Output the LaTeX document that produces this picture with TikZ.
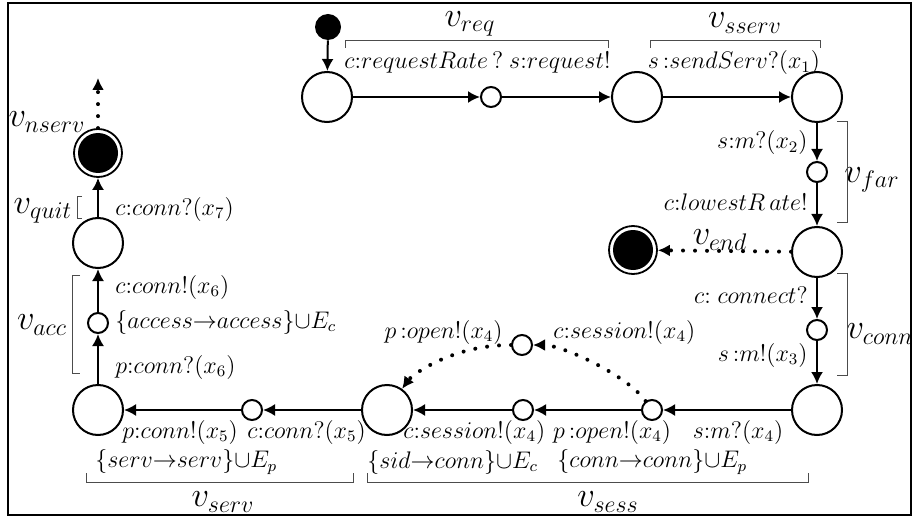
\documentclass[tikz,border=0pt]{standalone}
\usetikzlibrary{arrows.meta}
\begin{document}
\begin{tikzpicture}[x=0.5pt,y=-0.5pt,
  big/.style={circle,draw,line width=1pt,minimum size=25pt,inner sep=0pt},
  small/.style={circle,draw,line width=1pt,minimum size=10pt,inner sep=0pt},
  initst/.style={circle,fill,minimum size=13pt,inner sep=0pt},
  finalst/.style={circle,draw,line width=0.9pt,minimum size=24pt,inner sep=0pt,
     path picture={\fill (path picture bounding box.center) circle (10pt);}},
  tr/.style={line width=1pt,-{Latex[length=6pt,width=6pt]}},
  dot/.style={line width=2pt,line cap=round,dash pattern=on 0pt off 6pt,-{Latex[length=6pt,width=6pt]}},
  lab/.style={font=\fontsize{11.5}{13}\selectfont,inner sep=0pt},
  vlab/.style={font=\fontsize{16.5}{19}\selectfont,inner sep=0pt},
  brk/.style={draw=black!70,line width=0.5pt}]
\useasboundingbox (0,0) rectangle (914,518);
\draw[line width=1pt] (8,3) rectangle (911,515);
% states
\node[initst] (init) at (328,27) {};
\node[big] (A) at (327,97) {};
\node[small] (r1) at (491,97) {};
\node[big] (B) at (637,97) {};
\node[big] (C) at (817,97) {};
\node[small] (f1) at (817,172) {};
\node[big] (D) at (817,252) {};
\node[finalst] (endF) at (633,250) {};
\node[small] (c1) at (817,330) {};
\node[big] (E) at (817,410) {};
\node[small] (o1) at (652,410) {};
\node[small] (s1) at (523,410) {};
\node[small] (t1) at (522,345) {};
\node[big] (F) at (387,410) {};
\node[small] (k1) at (252,410) {};
\node[big] (G) at (98,410) {};
\node[small] (a1) at (98,323) {};
\node[big] (H) at (98,243) {};
\node[finalst] (nserv) at (98,153) {};
\coordinate (up) at (98,78);
% transitions
\draw[tr] (init) -- (A);
\draw[tr] (A) -- (r1);
\draw[tr] (r1) -- (B);
\draw[tr] (B) -- (C);
\draw[tr] (C) -- (f1);
\draw[tr] (f1) -- (D);
\draw[dot] (D) -- (endF);
\draw[tr] (D) -- (c1);
\draw[tr] (c1) -- (E);
\draw[tr] (E) -- (o1);
\draw[tr] (o1) -- (s1);
\draw[tr] (s1) -- (F);
\draw[tr] (F) -- (k1);
\draw[tr] (k1) -- (G);
\draw[tr] (G) -- (a1);
\draw[tr] (a1) -- (H);
\draw[tr] (H) -- (nserv);
\draw[dot] (nserv) -- (up);
\draw[dot] (o1) .. controls +(-25,-35) and +(40,0) .. (t1);
\draw[dot] (t1) .. controls +(-70,0) and +(25,-35) .. (F);
% edge labels
\node[lab,anchor=west] (l1) at (344,63) {$c{:}requestRate\,?$};
\node[lab,anchor=east] (l2) at (611,63) {$s{:}request!$};
\node[lab] (l3) at (734,63) {$s\,{:}sendServ?(x_1)$};
\node[lab,anchor=east] (l4) at (808,143) {$s{:}m?(x_2)$};
\node[lab,anchor=east] (l5) at (808,202) {$c{:}lowestR\,ate!$};
\node[lab,anchor=east] (l6) at (808,295) {$c{:}\;connect?$};
\node[lab,anchor=east] (l7) at (808,355) {$s\,{:}m!(x_3)$};
\node[lab] (l8) at (738,432) {$s{:}m?(x_4)$};
\node[lab] (l9) at (612,432) {$p\,{:}open!(x_4)$};
\node[lab,anchor=west] (l10) at (557,462) {$\{conn{\rightarrow}conn\}{\cup}E_p$};
\node[lab,anchor=west] (l11) at (403,432) {$c{:}session!(x_4)$};
\node[lab,anchor=west] (l12) at (367,462) {$\{sid{\rightarrow}conn\}{\cup}E_c$};
\node[lab,anchor=west] (l13) at (553,332) {$c{:}session!(x_4)$};
\node[lab,anchor=east] (l14) at (503,332) {$p\,{:}open!(x_4)$};
\node[lab,anchor=west] (l15) at (122,432) {$p{:}conn!(x_5)$};
\node[lab,anchor=west] (l16) at (247,432) {$c{:}conn?(x_5)$};
\node[lab,anchor=west] (l17) at (95,462) {$\{serv{\rightarrow}serv\}{\cup}E_p$};
\node[lab,anchor=west] (l18) at (115,367) {$p{:}conn?(x_6)$};
\node[lab,anchor=west] (l19) at (115,322) {$\{access{\rightarrow}access\}{\cup}E_c$};
\node[lab,anchor=west] (l20) at (115,287) {$c{:}conn!(x_6)$};
\node[lab,anchor=west] (l21) at (115,209) {$c{:}conn?(x_7)$};
% group labels
\node[vlab] (vreq) at (470,24) {$v_{req}$};
\node[vlab] (vsserv) at (745,23) {$v_{sserv}$};
\node[vlab] (vfar) at (872,180) {$v_{far}$};
\node[vlab] (vconn) at (880,334) {$v_{conn}$};
\node[vlab] (vend) at (720,240) {$v_{end}$};
\node[vlab] (vsess) at (608,502) {$v_{sess}$};
\node[vlab] (vserv) at (223,502) {$v_{serv}$};
\node[vlab] (vacc) at (42,325) {$v_{acc}$};
\node[vlab] (vquit) at (43,211) {$v_{quit}$};
\node[vlab] (vnserv) at (47,122) {$v_{nserv}$};
% brackets
\draw[brk] (345,48) -- (345,41) -- (608,41) -- (608,48);
\draw[brk] (650,48) -- (650,41) -- (820,41) -- (820,48);
\draw[brk] (837,122) -- (847,122) -- (847,222) -- (837,222);
\draw[brk] (837,273) -- (847,273) -- (847,375) -- (837,375);
\draw[brk] (367,473) -- (367,482) -- (808,482) -- (808,473);
\draw[brk] (86,473) -- (86,482) -- (353,482) -- (353,473);
\draw[brk] (80,275) -- (72,275) -- (72,373) -- (80,373);
\draw[brk] (82,197) -- (77,197) -- (77,218) -- (82,218);
\end{tikzpicture}
\end{document}
